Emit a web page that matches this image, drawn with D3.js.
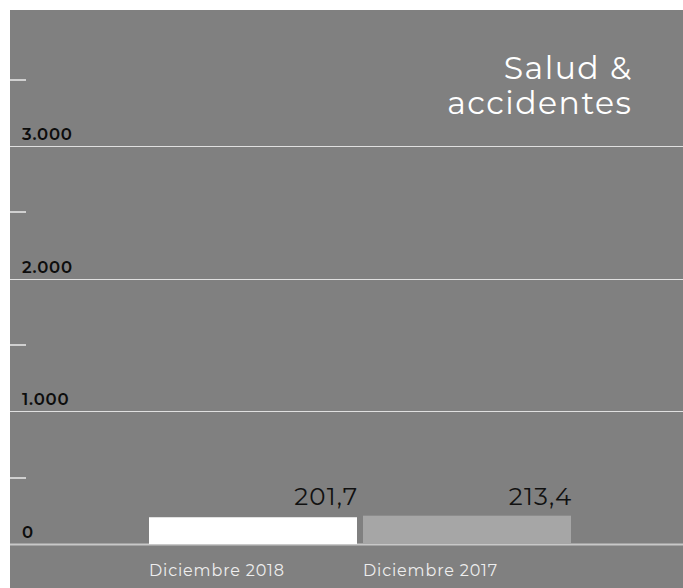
<!DOCTYPE html>
<html>
<head>
<meta charset="utf-8">
<script src="https://cdn.jsdelivr.net/npm/d3@7"></script>
<style>
  body { margin: 0; background: #fff; }
  text { font-family: Montserrat, "Noto Sans", sans-serif; }
</style>
</head>
<body>
<div id="chart"></div>
<script>
const WIDTH = 683;
const HEIGHT = 588;

const categories = ["Diciembre 2018", "Diciembre 2017"];
const values = [201.7, 213.4];
const valueLabels = ["201,7", "213,4"];
const barColors = ["#ffffff", "#a6a6a6"];
const majorTicks = [0, 1000, 2000, 3000];
const majorTickLabels = ["0", "1.000", "2.000", "3.000"];
const minorTicks = [500, 1500, 2500, 3500];
const titleLines = ["Salud &", "accidentes"];

let svg = d3.select("#chart")
  .append("svg")
  .attr("width", WIDTH)
  .attr("height", HEIGHT)

svg.append("rect")
  .attr("x", 10)
  .attr("y", 10)
  .attr("width", WIDTH - 10)
  .attr("height", HEIGHT - 10)
  .style("fill", "#808080")

let y = d3.scaleLinear().domain([0, 4000]).range([544, 13.3])
let x = d3.scaleBand().domain(categories).range([149, 571]).paddingInner(6 / 214).paddingOuter(0)

// grid lines at every 1000
svg.selectAll(".grid")
  .data(majorTicks)
  .enter()
  .append("line")
  .attr("x1", 10)
  .attr("x2", WIDTH)
  .attr("y1", d => Math.round(y(d)) + 0.5)
  .attr("y2", d => Math.round(y(d)) + 0.5)
  .style("stroke", d => d == 0 ? "#c8c8c8" : "#e0e0e0")
  .style("stroke-width", d => d == 0 ? 2 : 1)

// small marks at the half thousands
svg.selectAll(".minor")
  .data(minorTicks)
  .enter()
  .append("line")
  .attr("x1", 10)
  .attr("x2", 26)
  .attr("y1", d => Math.round(y(d)))
  .attr("y2", d => Math.round(y(d)))
  .style("stroke", "#d0d0d0")
  .style("stroke-width", 2)

svg.selectAll(".tlabel")
  .data(majorTicks)
  .enter()
  .append("text")
  .attr("x", 22)
  .attr("y", d => y(d) - 6)
  .text((d, i) => majorTickLabels[i])
  .style("font-size", "16.5px")
  .style("font-weight", 600)
  .style("letter-spacing", "0.8px")
  .style("fill", "#0d0d0d")

svg.selectAll(".bar")
  .data(values)
  .enter()
  .append("rect")
  .attr("x", (d, i) => x(categories[i]))
  .attr("y", d => y(d))
  .attr("width", x.bandwidth())
  .attr("height", d => y(0) - y(d))
  .style("fill", (d, i) => barColors[i])

svg.selectAll(".vlabel")
  .data(values)
  .enter()
  .append("text")
  .attr("x", (d, i) => x(categories[i]) + x.bandwidth() + 1.5)
  .attr("y", 505)
  .attr("text-anchor", "end")
  .text((d, i) => valueLabels[i])
  .style("font-size", "24.5px")
  .style("letter-spacing", "1.2px")
  .style("fill", "#111")

svg.selectAll(".clabel")
  .data(categories)
  .enter()
  .append("text")
  .attr("x", d => x(d))
  .attr("y", 576)
  .text(d => d)
  .style("font-size", "16px")
  .style("letter-spacing", "0.85px")
  .style("fill", "#eeeeee")

svg.selectAll(".title")
  .data(titleLines)
  .enter()
  .append("text")
  .attr("x", 632.5)
  .attr("y", (d, i) => 79 + i * 35)
  .attr("text-anchor", "end")
  .text(d => d)
  .style("font-size", "31.5px")
  .style("letter-spacing", "1.5px")
  .style("fill", "#ffffff")
</script>
</body>
</html>
